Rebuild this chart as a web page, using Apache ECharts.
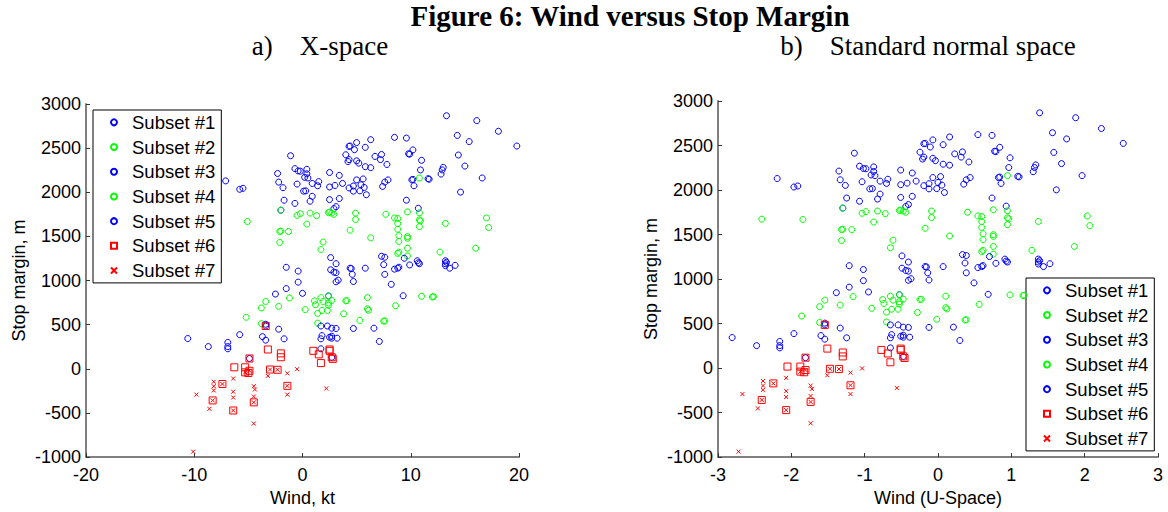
<!DOCTYPE html>
<html>
<head>
<meta charset="utf-8">
<script src="https://cdn.jsdelivr.net/npm/echarts@6/dist/echarts.min.js"></script>
<style>
html,body{margin:0;padding:0;background:#fff;}
#chart{width:1168px;height:512px;}
</style>
</head>
<body>
<div id="chart"></div>
<script>
// ---- Data: [wind (kt), stop margin (m)] ----
const subsetNames = ['Subset #1','Subset #2','Subset #3','Subset #4','Subset #5','Subset #6','Subset #7'];

const subset1 = [[-1.1,2414],[-0.7,2268],[-0.4,2242],[-2.3,2213],[-7.1,2129],[-2.2,2115],[-0.5,2093],[-5.8,2034],[-5.5,2045],[-1.8,2052],
[-1.7,1910],[-0.7,1874],[-2.0,1797],[13.3,2867],[16.1,2812],[18.1,2691],[14.3,2644],[15.4,2574],[19.8,2524],[8.5,2622],
[9.6,2614],[6.3,2596],[5.0,2563],[4.3,2520],[4.4,2524],[4.8,2483],[5.8,2509],[10.2,2480],[9.8,2436],[9.9,2432],
[4.0,2425],[7.3,2428],[6.7,2406],[7.2,2370],[4.3,2370],[4.2,2348],[5.0,2356],[5.2,2330],[7.8,2315],[11.0,2362],
[14.4,2422],[15.0,2297],[10.9,2253],[13.0,2282],[12.9,2253],[12.8,2206],[5.8,2290],[6.3,2279],[-0.2,2239],[0.4,2260],
[0.4,2209],[0.2,2169],[0.5,2162],[2.5,2224],[3.4,2191],[1.5,2121],[1.4,2074],[0.9,2100],[2.5,2060],[3.0,2077],
[3.7,2100],[5.0,2140],[5.6,2151],[5.4,2085],[4.7,2071],[4.3,2049],[4.7,2013],[5.3,2016],[5.7,2055],[5.9,1972],
[7.4,2066],[7.6,2115],[7.9,2140],[10.1,2140],[10.2,2146],[10.3,2074],[11.6,2154],[11.7,2148],[16.6,2162],[14.6,2002],
[0.1,2013],[0.3,2016],[0.9,1954],[0.7,1899],[2.5,1917],[3.4,1929],[9.6,1910],[10.7,1819],[3.1,1837],[2.9,1815]];

const subset2 = [[-2.0,1797],[-0.5,1739],[-0.2,1757],[-5.1,1669],[-8.3,1673],[-2.1,1556],[-2.0,1560],[-1.3,1556],[-2.1,1432],[0.7,1764],[1.3,1735],
[0.4,1640],[2.5,1775],[2.7,1764],[2.9,1750],[2.4,1770],[4.9,1764],[4.9,1691],[4.4,1570],[6.3,1484],[1.9,1436],
[1.7,1352],[7.7,1750],[8.5,1709],[8.8,1702],[8.8,1647],[8.8,1581],[8.9,1509],[8.9,1443],[9.7,1778],[10.8,1767],
[10.8,1687],[10.9,1676],[10.8,1611],[9.7,1498],[9.7,1479],[9.7,1366],[9.7,1279],[8.9,1322],[8.8,1308],[13.2,1647],
[17.0,1709],[17.2,1600],[12.7,1322],[16.0,1366],[10.8,2162]];

const subset3 = [[-1.5,1150],[-0.4,1107],[-0.4,982],[2.6,1260],[3.1,1191],[2.6,1122],[2.9,1096],[3.1,1089],[4.4,1140],[4.5,1136],
[4.6,1070],[4.7,989],[5.8,1140],[7.3,1275],[7.6,1264],[7.5,1180],[7.6,1070],[8.2,957],[8.5,1129],[8.8,1140],
[8.9,1151],[9.4,1253],[9.9,1177],[10.6,1224],[10.8,1191],[10.7,1202],[13.2,1224],[13.2,1191],[13.2,1169],[13.3,1207],
[13.6,1140],[14.1,1172],[3.1,986],[3.3,1004],[-2.5,847],[-1.5,909],[0.0,855],[9.3,828],[2.4,825]];

const subset4 = [[-5.2,584],[-3.8,690],[-3.4,763],[-3.8,512],[-2.2,708],[-1.2,803],[11.0,822],[12.0,814],[12.1,818],[0.25,671],
[1.1,770],[1.7,807],[1.9,763],[2.4,745],[2.7,774],[2.4,719],[1.2,726],[1.4,628],[1.8,661],[2.3,661],
[1.4,518],[2.4,825],[4.0,770],[4.1,773],[3.8,624],[6.0,807],[6.0,679],[6.1,664],[5.3,548],[7.5,540],
[7.6,543],[8.6,715]];

const subset5 = [[-10.6,343],[-8.7,252],[-6.9,299],[-6.9,252],[-6.9,227],[-5.8,387],[-3.4,485],[-3.4,505],[-3.7,365],[-3.4,325],
[-2.2,449],[-1.7,340],[-4.9,117],[1.7,485],[2.3,485],[2.7,460],[3.1,457],[1.8,376],[1.7,340],[2.7,369],
[2.7,347],[3.2,347],[2.5,358],[4.7,457],[6.6,460],[7.1,310],[1.7,227],[2.7,131]];

const subset6 = [[-3.4,485],[-4.9,117],[-3.2,219],[-2.0,175],[-2.0,131],[-6.3,17],[-5.3,17],[-5.3,-40],[-5.0,-47],[-4.9,-22],
[-7.4,-172],[-3.0,-8],[-2.3,-11],[-1.4,-193],[-8.3,-358],[-6.4,-472],[-4.5,-380],[1.0,204],[1.5,164],[1.7,65],
[2.5,219],[2.5,204],[2.7,131],[2.8,113]];

const subset7 = [[-9.8,-292],[-8.2,-146],[-8.2,-197],[-8.2,-245],[-8.6,-453],[-6.4,-110],[-6.4,-259],[-6.4,-325],[-4.5,-197],[-4.4,-234],
[-4.5,-314],[-4.5,-620],[-3.2,-80],[-1.4,-51],[-1.4,-292],[-0.5,-4],[-10.1,-938],[2.2,-223],[-7.4,-172],[-8.3,-358],
[-6.4,-472],[-4.5,-380],[-1.4,-193],[-3.0,-8],[-2.3,-11],[-5.3,-40],[-4.9,-22]];

// Axis ticks
const windTicksKt = [-20, -10, 0, 10, 20];
const uTicks = [-3, -2, -1, 0, 1, 2, 3];
const marginTicks = [-1000, -500, 0, 500, 1000, 1500, 2000, 2500, 3000];
// Standard-normal axis: wind (kt) at U = 0 and kt per unit of U
const U_SPACE_MEAN_KT = 5.4;
const U_SPACE_SD_KT = 5.7;

const subsets = [subset1, subset2, subset3, subset4, subset5, subset6, subset7];

// ---- Styles ----
const BLUE = '#0000ff', GREEN = '#00ff00', RED = '#ff0000';
const subsetColors = [BLUE, GREEN, BLUE, GREEN, BLUE, RED, RED];
const subsetSymbols = ['circle','circle','circle','circle','circle','rect','path://M0,0L10,10M10,0L0,10'];
const subsetSizes = [6, 6, 6, 6, 6, 7, 4];
const SANS = "'Liberation Sans', Arial, Helvetica, sans-serif";
const SERIF = "'Liberation Serif', 'Times New Roman', serif";

function makeSeries(gridIdx) {
  return subsets.map((d, i) => ({
    name: subsetNames[i],
    type: 'scatter',
    xAxisIndex: gridIdx,
    yAxisIndex: gridIdx,
    data: d,
    symbol: subsetSymbols[i],
    symbolSize: subsetSizes[i],
    symbolKeepAspect: true,
    itemStyle: { color: 'rgba(0,0,0,0)', borderColor: subsetColors[i], borderWidth: 1, opacity: 1 },
    emphasis: { disabled: true },
    silent: true,
    z: 2 + i
  }));
}

const axisLineStyle = { show: true, onZero: false, lineStyle: { color: '#808080', width: 2 } };
const axisTickStyle = { show: true, inside: true, length: 4, lineStyle: { color: '#333', width: 1 } };
const labelStyle = { color: '#000', fontSize: 18, fontFamily: SANS };

function yAxis(gridIdx) {
  return {
    type: 'value', gridIndex: gridIdx,
    min: marginTicks[0], max: marginTicks[marginTicks.length - 1], interval: marginTicks[1] - marginTicks[0],
    name: 'Stop margin, m', nameLocation: 'middle', nameGap: 58,
    nameTextStyle: { color: '#000', fontSize: 18, fontFamily: SANS },
    axisLine: axisLineStyle, axisTick: axisTickStyle,
    axisLabel: Object.assign({ margin: 5, formatter: v => String(v) }, labelStyle),
    splitLine: { show: false }
  };
}

const legendBase = {
  orient: 'vertical', padding: [0, 6, 0, 17], itemWidth: 6, itemHeight: 6, itemGap: 0,
  borderColor: '#000', borderWidth: 1, backgroundColor: '#fff', selectedMode: false,
  textStyle: { color: '#000', fontSize: 18.5, fontFamily: SANS, lineHeight: 24.7, padding: [0, 0, 0, 10] },
  data: subsetNames
};

const option = {
  animation: false,
  backgroundColor: '#fff',
  title: [
    { text: 'Figure 6: Wind versus Stop Margin', left: 630, top: 1, textAlign: 'center', padding: 0,
      textStyle: { fontFamily: SERIF, fontWeight: 'bold', fontSize: 29, color: '#000' } },
    { text: 'a)    X-space', left: 320, top: 32, textAlign: 'center', padding: 0,
      textStyle: { fontFamily: SERIF, fontWeight: 'normal', fontSize: 27, color: '#000' } },
    { text: 'b)    Standard normal space', left: 928, top: 32, textAlign: 'center', padding: 0,
      textStyle: { fontFamily: SERIF, fontWeight: 'normal', fontSize: 27, color: '#000' } }
  ],
  legend: [
    Object.assign({ left: 93, top: 110 }, legendBase),
    Object.assign({ left: 1026, top: 278 }, legendBase)
  ],
  grid: [
    { left: 86, top: 104, width: 433, height: 363 },
    { left: 718, top: 101, width: 440, height: 365 }
  ],
  xAxis: [
    {
      type: 'value', gridIndex: 0,
      min: windTicksKt[0], max: windTicksKt[windTicksKt.length - 1], interval: windTicksKt[1] - windTicksKt[0],
      name: 'Wind, kt', nameLocation: 'middle', nameGap: 30,
      nameTextStyle: { color: '#000', fontSize: 18, fontFamily: SANS },
      axisLine: axisLineStyle, axisTick: axisTickStyle,
      axisLabel: Object.assign({ margin: 9, formatter: v => String(v) }, labelStyle),
      splitLine: { show: false }
    },
    {
      type: 'value', gridIndex: 1,
      min: U_SPACE_MEAN_KT + uTicks[0] * U_SPACE_SD_KT,
      max: U_SPACE_MEAN_KT + uTicks[uTicks.length - 1] * U_SPACE_SD_KT,
      interval: U_SPACE_SD_KT,
      name: 'Wind (U-Space)', nameLocation: 'middle', nameGap: 30,
      nameTextStyle: { color: '#000', fontSize: 18, fontFamily: SANS },
      axisLine: axisLineStyle, axisTick: axisTickStyle,
      axisLabel: Object.assign({
        margin: 9,
        formatter: v => String(uTicks[Math.round((v - U_SPACE_MEAN_KT) / U_SPACE_SD_KT) - uTicks[0]])
      }, labelStyle),
      splitLine: { show: false }
    }
  ],
  yAxis: [yAxis(0), yAxis(1)],
  series: makeSeries(0).concat(makeSeries(1))
};

const chart = echarts.init(document.getElementById('chart'), null, { renderer: 'svg' });
chart.setOption(option);
</script>
</body>
</html>
